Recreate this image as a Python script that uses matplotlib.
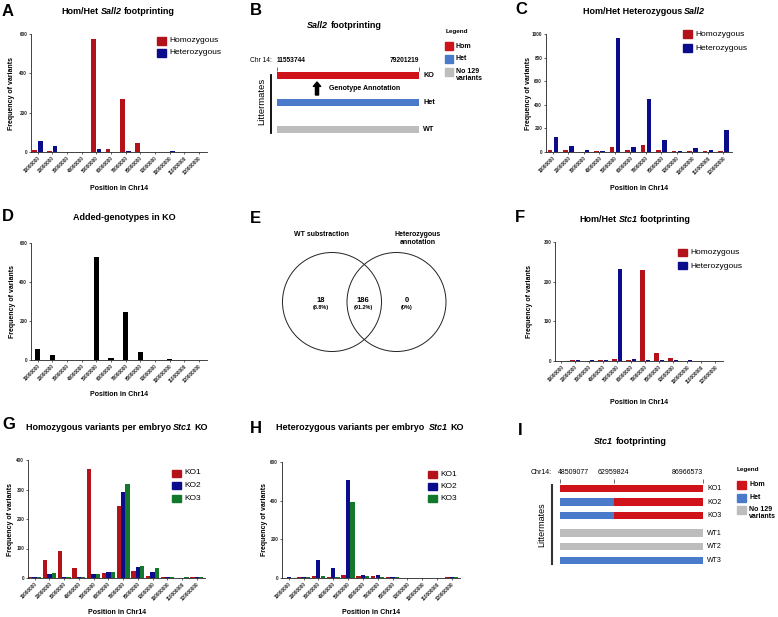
import numpy as np
import matplotlib.pyplot as plt
from matplotlib.patches import Circle, Rectangle, FancyArrowPatch
from matplotlib.lines import Line2D

plt.rcParams['font.family'] = ['Liberation Sans', 'DejaVu Sans']

W, H, DPI = 778, 617, 100

# ---- data ----
positions = ['10000000', '20000000', '30000000', '40000000', '50000000', '60000000',
             '70000000', '80000000', '90000000', '100000000', '110000000', '120000000']

# A: Hom/Het Sall2 footprinting
sall2_hom = [8, 3, 0, 0, 575, 15, 270, 47, 0, 0, 0, 0]
sall2_het = [55, 30, 0, 0, 13, 0, 5, 2, 0, 5, 0, 2]
# C: Hom/Het heterozygous Sall2
hetsall2_hom = [18, 20, 0, 5, 40, 15, 60, 18, 5, 10, 8, 12]
hetsall2_het = [125, 50, 15, 5, 970, 40, 450, 105, 8, 30, 20, 190]
# D: added genotypes in KO
added_ko = [55, 28, 0, 0, 527, 10, 245, 43, 0, 3, 0, 2]
# E: venn (WT only, both, het only)
venn_counts = [18, 186, 0]
venn_sets = ['WT substraction', 'Heterozygous\nannotation']
# F: Hom/Het Stc1 footprinting
stc1_hom = [0, 2, 0, 2, 5, 3, 230, 21, 8, 0, 0, 0]
stc1_het = [0, 2, 2, 2, 232, 5, 3, 2, 2, 2, 0, 0]
# G: homozygous per embryo
hom_ko1 = [3, 62, 90, 35, 370, 18, 245, 25, 8, 2, 0, 3]
hom_ko2 = [5, 13, 5, 3, 12, 20, 290, 38, 22, 3, 1, 5]
hom_ko3 = [5, 18, 3, 3, 14, 21, 318, 42, 34, 2, 3, 5]
# H: heterozygous per embryo
het_ko1 = [2, 5, 10, 5, 15, 10, 12, 5, 2, 2, 2, 3]
het_ko2 = [3, 5, 95, 50, 505, 15, 13, 5, 2, 2, 2, 5]
het_ko3 = [2, 5, 8, 3, 395, 12, 5, 3, 2, 2, 2, 5]
# B: Sall2 schematic
sall2_span = [11553744, 79201219]
sall2_rows = ['KO', 'Het', 'WT']
sall2_state = ['Hom', 'Het', 'None']
# I: Stc1 schematic
stc1_bounds = [48509077, 62959824, 86966573]
stc1_rows = ['KO1', 'KO2', 'KO3', 'WT1', 'WT2', 'WT3']
stc1_left = ['Hom', 'Het', 'Het', 'None', 'None', 'Het']
stc1_right = ['Hom', 'Hom', 'Hom', 'None', 'None', 'Het']

RED, NAVY, GREEN = '#B3121B', '#0B0C8C', '#13782B'
state_col = {'Hom': '#D0121B', 'Het': '#4A7BCB', 'None': '#BDBDBD'}

fig = plt.figure(figsize=(W / DPI, H / DPI), dpi=DPI)


def fx(x):
    return x / W


def fy(y):
    return 1 - y / H


def add_ax(l, t, r, b):
    return fig.add_axes([fx(l), fy(b), (r - l) / W, (b - t) / H])


def ftext(x, y, s, **kw):
    kw.setdefault('ha', 'center')
    kw.setdefault('va', 'center')
    return fig.text(fx(x), fy(y), s, **kw)


def rich_title(cx, cy, parts, size=6.5):
    # parts: list of (text, italic); words joined by single spaces
    r = fig.canvas.get_renderer()
    a = fig.text(0, 0, 'X X', fontsize=size, fontweight='bold')
    b = fig.text(0, 0, 'XX', fontsize=size, fontweight='bold')
    space = a.get_window_extent(r).width - b.get_window_extent(r).width
    a.remove(); b.remove()
    objs = [ftext(0, cy, s, fontsize=size, fontweight='bold', ha='left',
                  fontstyle='italic' if it else 'normal') for s, it in parts]
    ws = [o.get_window_extent(r).width for o in objs]
    x = cx - (sum(ws) + space * (len(objs) - 1)) / 2
    for o, w in zip(objs, ws):
        o.set_x(fx(x))
        x += w + space


def legend_block(x, y, step, labels, colors, size=6, weight='normal', sq=(9, 7)):
    for i, (lab, c) in enumerate(zip(labels, colors)):
        yy = y + i * step
        fig.patches.append(Rectangle((fx(x), fy(yy + sq[1] / 2)), sq[0] / W, sq[1] / H,
                                     transform=fig.transFigure, color=c))
        ftext(x + sq[0] + 3, yy, lab, ha='left', fontsize=size, fontweight=weight,
              linespacing=1.0, va='top' if '\n' in lab else 'center')
        if '\n' in lab:
            fig.texts[-1].set_y(fy(yy - 4))


def bar_panel(box, series, colors, ymax, ystep, ylab_x, xlab_y):
    l, t, r, b = box
    ax = add_ax(l, t, r, b)
    x = np.arange(len(positions))
    n = len(series)
    width = {1: 0.36, 2: 0.3, 3: 0.29}[n]
    step = {1: 0.0, 2: 0.4, 3: 0.3}[n]
    for i, (vals, c) in enumerate(zip(series, colors)):
        ax.bar(x + (i - (n - 1) / 2) * step, vals, width, color=c, linewidth=0)
    ax.set_xlim(-0.45, len(x) - 0.45)
    ax.set_ylim(0, ymax)
    ax.set_yticks(np.arange(0, ymax + 1, ystep))
    ax.set_xticks(x)
    ax.set_xticklabels(positions, rotation=45, ha='right', va='top',
                       rotation_mode='anchor', fontsize=3.3, fontweight='bold')
    for lab in ax.get_yticklabels():
        lab.set_fontsize(3.3)
        lab.set_fontweight('bold')
    ax.tick_params(length=1.5, width=0.5, pad=1.2, colors='#222')
    for s in ['top', 'right']:
        ax.spines[s].set_visible(False)
    for s in ['left', 'bottom']:
        ax.spines[s].set_linewidth(0.6)
        ax.spines[s].set_color('#222')
    ax.patch.set_alpha(0)
    ftext(ylab_x, (t + b) / 2, 'Frequency of variants', rotation=90,
          fontsize=5, fontweight='bold')
    ftext((l + r) / 2, xlab_y, 'Position in Chr14', fontsize=5, fontweight='bold')
    return ax


# ---- panel letters ----
for letter, x, y in [('A', 2, 16), ('B', 250, 15), ('C', 515, 14), ('D', 2, 221),
                     ('E', 250, 223), ('F', 515, 222), ('G', 2, 429), ('H', 250, 433),
                     ('I', 518, 435)]:
    ftext(x, y, letter, ha='left', va='baseline', fontsize=12, fontweight='bold')

# ---- A ----
bar_panel((31, 34, 207, 152), [sall2_hom, sall2_het], [RED, NAVY], 600, 200, 11.5, 188)
rich_title(118, 11, [('Hom/Het', False), ('Sall2', True), ('footprinting', False)])
legend_block(157, 41, 12, ['Homozygous', 'Heterozygous'], [RED, NAVY])

# ---- C ----
bar_panel((546, 34, 732, 152), [hetsall2_hom, hetsall2_het], [RED, NAVY], 1000, 200, 529, 188)
rich_title(644, 11, [('Hom/Het Heterozygous', False), ('Sall2', True)])
legend_block(683, 34, 14, ['Homozygous', 'Heterozygous'], [RED, NAVY])

# ---- D ----
bar_panel((31, 243, 207, 360), [added_ko], ['black'], 600, 200, 13, 395)
rich_title(124, 218, [('Added-genotypes in KO', False)])

# ---- F ----
bar_panel((555, 242, 723, 361), [stc1_hom, stc1_het], [RED, NAVY], 300, 100, 529.5, 402)
rich_title(635, 219, [('Hom/Het', False), ('Stc1', True), ('footprinting', False)])
legend_block(678, 253, 13, ['Homozygous', 'Heterozygous'], [RED, NAVY])

# ---- G ----
bar_panel((28, 460, 205, 578), [hom_ko1, hom_ko2, hom_ko3], [RED, NAVY, GREEN], 400, 100, 11, 612)
rich_title(117, 428, [('Homozygous variants per embryo', False), ('Stc1', True), ('KO', False)])
legend_block(172, 473, 12.5, ['KO1', 'KO2', 'KO3'], [RED, NAVY, GREEN])

# ---- H ----
bar_panel((282, 462, 460, 578), [het_ko1, het_ko2, het_ko3], [RED, NAVY, GREEN], 600, 200, 264.5, 612)
rich_title(370, 428, [('Heterozygous variants per embryo ', False), ('Stc1', True), ('KO', False)])
legend_block(428, 474, 12, ['KO1', 'KO2', 'KO3'], [RED, NAVY, GREEN])

# ---- E: venn ----
axe = add_ax(270, 240, 460, 365)
axe.set_xlim(270, 460)
axe.set_ylim(365, 240)
axe.axis('off')
for cx in (332, 396.5):
    axe.add_patch(Circle((cx, 302), 49.5, fill=False, lw=0.7, ec='#222'))
total = sum(venn_counts)
for cx, v in zip((321, 363, 407), venn_counts):
    pct = 100 * v / total
    axe.text(cx, 300, str(v), ha='center', va='center', fontsize=5.5, fontweight='bold')
    axe.text(cx, 307, f'({pct:.1f}%)' if v else '(0%)', ha='center', va='center',
             fontsize=4, fontweight='bold')
ftext(321, 235, venn_sets[0], fontsize=5, fontweight='bold')
ftext(418, 238.5, venn_sets[1], fontsize=5, fontweight='bold', linespacing=1.1)

# ---- B: Sall2 schematic ----
axb = add_ax(277, 62, 419, 143)
axb.set_xlim(*sall2_span)
axb.set_ylim(2.5, -0.5)
axb.axis('off')
rows = np.arange(len(sall2_rows))
axb.barh(rows, sall2_span[1] - sall2_span[0], left=sall2_span[0], height=0.28,
         color=[state_col[s] for s in sall2_state])
axb.vlines(sall2_span, -0.32, -0.17, color='#555', lw=0.6, clip_on=False)
for v, ha in zip(sall2_span, ['left', 'right']):
    axb.annotate(str(v), (v, -0.54), ha=ha, va='center', fontsize=4.8, fontweight='bold',
                 annotation_clip=False)
axb.annotate('Chr 14:', (sall2_span[0], -0.54), xytext=(-5, 0), textcoords='offset pixels',
             ha='right', va='center', fontsize=4.8, annotation_clip=False)
for rw, lab in zip(rows, sall2_rows):
    axb.annotate(lab, (sall2_span[1], rw), xytext=(4, 0), textcoords='offset pixels',
                 ha='left', va='center', fontsize=5.2, fontweight='bold', annotation_clip=False)
rich_title(344.5, 25, [('Sall2', True), ('footprinting', False)])
fig.add_artist(Line2D([fx(271)] * 2, [fy(75), fy(133)], lw=1.3, color='black'))
ftext(262, 101, 'Littermates', rotation=90, fontsize=6.8)
fig.patches.append(FancyArrowPatch((fx(317), fy(95)), (fx(317), fy(82)),
                                   transform=fig.transFigure, color='black',
                                   arrowstyle='simple,head_width=0.75,head_length=0.45,tail_width=0.32',
                                   mutation_scale=7, shrinkA=0, shrinkB=0))
ftext(329, 89, 'Genotype Annotation', ha='left', fontsize=5, fontweight='bold')
ftext(446, 31, 'Legend', ha='left', fontsize=4.6, fontweight='bold')
legend_block(445, 46, 13, ['Hom', 'Het', 'No 129\nvariants'],
             [state_col['Hom'], state_col['Het'], state_col['None']],
             size=5, weight='bold', sq=(8, 7))

# ---- I: Stc1 schematic ----
axi = add_ax(560, 481.85, 703, 567)
axi.set_xlim(stc1_bounds[0], stc1_bounds[-1])
axi.set_ylim(5.8, -0.5)
axi.axis('off')
irows = np.arange(len(stc1_rows)) + 0.3 * (np.arange(len(stc1_rows)) >= 3)
axi.barh(irows, stc1_bounds[1] - stc1_bounds[0], left=stc1_bounds[0], height=0.55,
         color=[state_col[s] for s in stc1_left])
axi.barh(irows, stc1_bounds[2] - stc1_bounds[1], left=stc1_bounds[1], height=0.55,
         color=[state_col[s] for s in stc1_right])
axi.vlines(stc1_bounds, -0.71, -0.41, color='#555', lw=0.6, clip_on=False)
for v, ha in zip(stc1_bounds, ['left', 'center', 'right']):
    axi.annotate(str(v), (v, -1.16), xytext=(-2 if ha == 'left' else 0, 0),
                 textcoords='offset pixels', ha=ha, va='center', fontsize=5,
                 annotation_clip=False)
axi.annotate('Chr14:', (stc1_bounds[0], -1.16), xytext=(-8, 0), textcoords='offset pixels',
             ha='right', va='center', fontsize=5, annotation_clip=False)
for rw, lab in zip(irows, stc1_rows):
    axi.annotate(lab, (stc1_bounds[-1], rw), xytext=(4, 0), textcoords='offset pixels',
                 ha='left', va='center', fontsize=5, annotation_clip=False)
rich_title(630, 441, [('Stc1', True), ('footprinting', False)])
fig.add_artist(Line2D([fx(552)] * 2, [fy(485), fy(564)], lw=1.5, color='#333'))
ftext(542, 525, 'Littermates', rotation=90, fontsize=6.5)
ftext(737, 469, 'Legend', ha='left', fontsize=4.6, fontweight='bold')
legend_block(737, 485, 12.5, ['Hom', 'Het', 'No 129\nvariants'],
             [state_col['Hom'], state_col['Het'], state_col['None']],
             size=5, weight='bold', sq=(9, 8))

fig.savefig('out.png', dpi=DPI)
